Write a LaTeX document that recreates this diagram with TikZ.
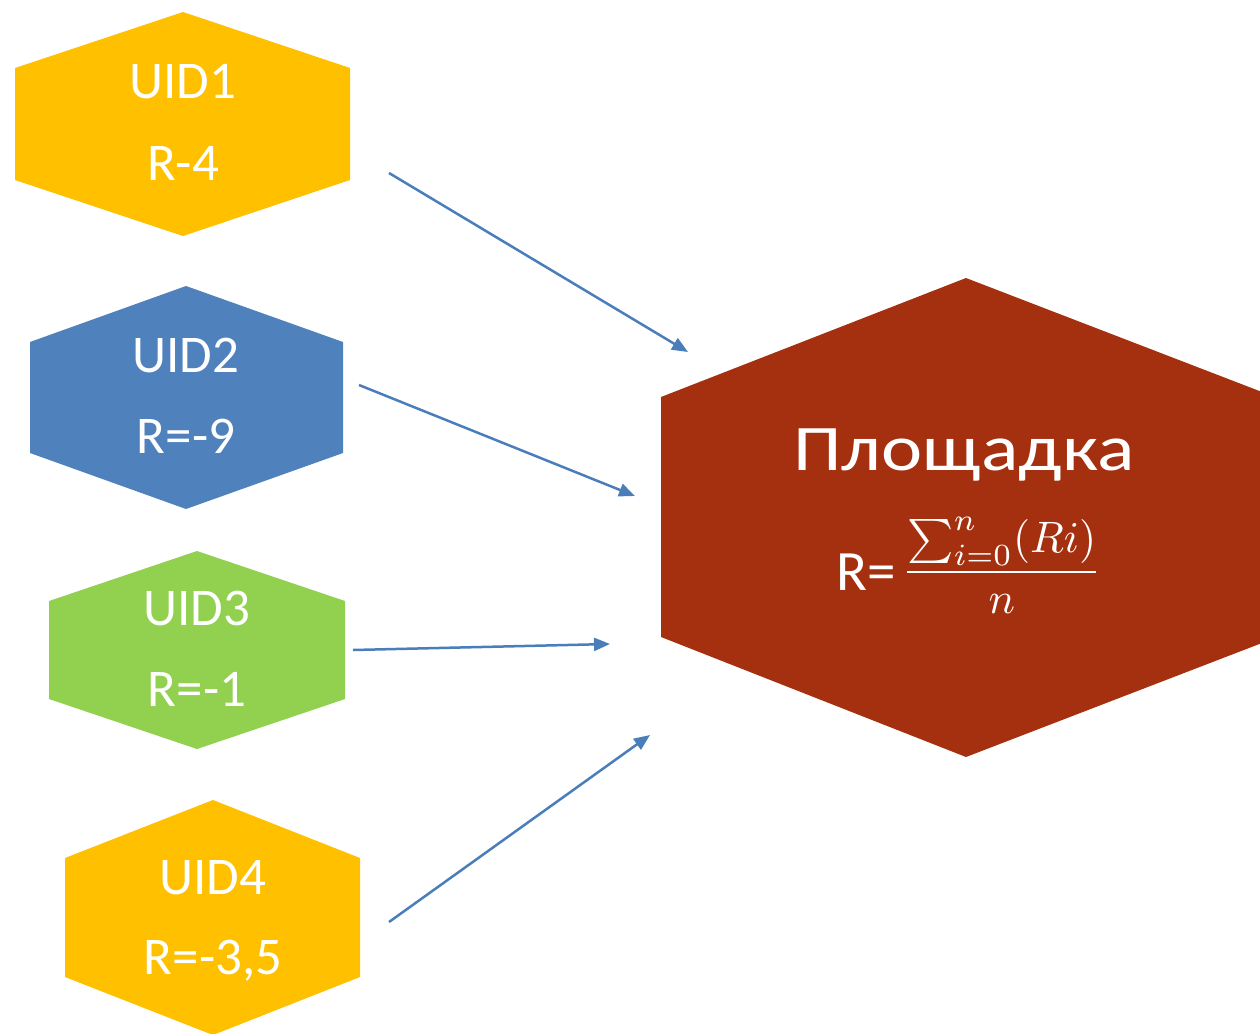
\documentclass[tikz,border=0pt]{standalone}
\usepackage{fontspec}
\setmainfont{Carlito}
\usetikzlibrary{arrows.meta}
\definecolor{hexyellow}{HTML}{FFC000}
\definecolor{hexblue}{HTML}{4F81BD}
\definecolor{hexgreen}{HTML}{92D050}
\definecolor{hexrust}{HTML}{A5300F}
\definecolor{arrowblue}{HTML}{4A7EBB}
\tikzset{
  lbl/.style={text=white, inner sep=0pt, anchor=base, font=\fontsize{53}{60}\selectfont},
  conn/.style={draw=arrowblue, line width=2.5pt, -{Triangle[length=16pt,width=13pt]}},
}
\begin{document}
\begin{tikzpicture}[x=1pt,y=-1pt]
\useasboundingbox (0,0) rectangle (1260,1033);
\clip (0,0) rectangle (1260,1033);
\fill[white] (0,0) rectangle (1260,1033);
% hexagons
\fill[hexyellow] (183,12) -- (350,68) -- (350,180) -- (183,236) -- (15,180) -- (15,68) -- cycle;
\fill[hexblue] (186,286) -- (343,342) -- (343,453) -- (186,509) -- (30,453) -- (30,342) -- cycle;
\fill[hexgreen] (197,551) -- (345,601) -- (345,699) -- (197,749) -- (49,699) -- (49,601) -- cycle;
\fill[hexyellow] (213,800) -- (360,858) -- (360,977) -- (213,1035) -- (65,977) -- (65,858) -- cycle;
\fill[hexrust] (966,278) -- (1262,392) -- (1262,643) -- (966,757) -- (661,637) -- (661,397) -- cycle;
% labels
\node[lbl] (u1) at (183,98) {UID1};
\node[lbl] (r1) at (183,180) {R-4};
\node[lbl] (u2) at (186,372) {UID2};
\node[lbl] (r2) at (186,453) {R=-9};
\node[lbl] (u3) at (197,625) {UID3};
\node[lbl] (r3) at (197,706) {R=-1};
\node[lbl] (u4) at (213,894) {UID4};
\node[lbl] (r4) at (213,974) {R=-3,5};
\node[text=white, inner sep=0pt, anchor=base] (pl) at (964,470) {\scalebox{1.2}[1]{\fontsize{65}{70}\selectfont Площадка}};
\node[text=white, inner sep=0pt, anchor=base west] (req) at (836,590) {\fontsize{57}{60}\selectfont R=};
\node[text=white, inner sep=0pt, anchor=base west] (frac) at (902,583) {\scalebox{4.4}{$\displaystyle\frac{\sum_{i=0}^{n}(Ri)}{n}$}};
% connector ends
\coordinate (a1s) at (389,173); \coordinate (a1e) at (688,352);
\coordinate (a2s) at (359,385); \coordinate (a2e) at (635,496);
\coordinate (a3s) at (353,650); \coordinate (a3e) at (610,644);
\coordinate (a4s) at (389,922); \coordinate (a4e) at (650,735);
\draw[conn] (a1s) -- (a1e);
\draw[conn] (a2s) -- (a2e);
\draw[conn] (a3s) -- (a3e);
\draw[conn] (a4s) -- (a4e);
\end{tikzpicture}
\end{document}
